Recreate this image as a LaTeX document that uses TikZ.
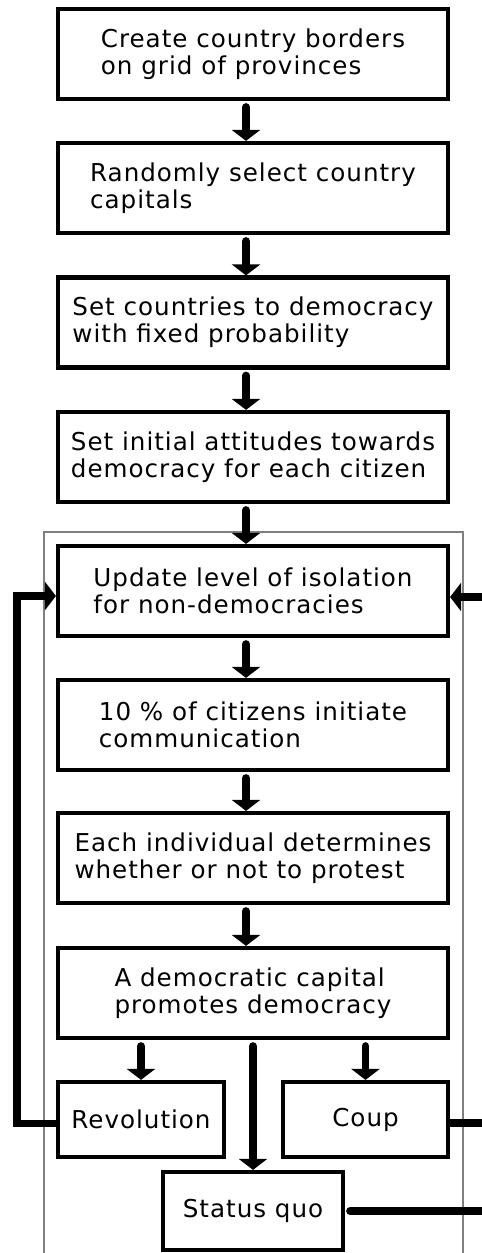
\documentclass[tikz,border=0pt]{standalone}
\usepackage{fontspec}
\setmainfont[LetterSpace = 4]{DejaVu Sans}
\usetikzlibrary{arrows.meta}

\begin{document}
\begin{tikzpicture}[x = 0.02cm, y = -0.02cm,
        every node/.append style = {font = \fontsize{14}{15.4}\selectfont},
        stage/.style = {draw, line width = 2.4pt, minimum width = 7.8cm, minimum height = 1.8cm, align = left},
        outcome/.style = {draw, line width = 2.4pt, minimum height = 1.5cm},
        link/.style = {line width = 4.5pt, line cap = round, shorten < = 0.12cm, -{Triangle[width = 0.56cm, length = 0.22cm]}},
        feed/.style = {line width = 4.5pt}]
        \useasboundingbox (0,0) rectangle (482,1253);
        \draw[gray, line width = 0.7pt] (44,1253) -- (44,532) -- (463,532) -- (463,1253);
        \node[stage] (borders) at (253,54) {Create country borders\\on grid of provinces};
        \node[stage] (capitals) at (253,188) {Randomly select country\\capitals};
        \node[stage] (democracy) at (253,322.5) {Set countries to democracy\\with fixed probability};
        \node[stage] (attitudes) at (253,457) {Set initial attitudes towards\\democracy for each citizen};
        \node[stage] (isolation) at (253,591) {Update level of isolation\\for non-democracies};
        \node[stage] (talk) at (253,725) {10 \% of citizens initiate\\communication};
        \node[stage] (protest) at (253,858) {Each individual determines\\whether or not to protest};
        \node[stage] (promote) at (253,993) {A democratic capital\\promotes democracy};
        \node[outcome, minimum width = 3.32cm] (revolution) at (141,1119.5) {Revolution};
        \node[outcome, minimum width = 3.3cm] (coup) at (365.5,1119.5) {Coup};
        \node[outcome, minimum width = 3.6cm, minimum height = 1.56cm] (quo) at (253,1211) {Status quo};
        \foreach \from/\to in {borders/capitals, capitals/democracy, democracy/attitudes,
                attitudes/isolation, isolation/talk, talk/protest, protest/promote}
            \draw[link] ([xshift = -0.14cm]\from.south) -- ([xshift = -0.14cm]\to.north);
        \draw[link] (revolution.north |- promote.south) -- (revolution.north);
        \draw[link] (coup.north |- promote.south) -- (coup.north);
        \draw[link] (quo.north |- promote.south) -- (quo.north);
        \draw[link, line cap = butt, shorten < = 0pt] ([yshift = -0.08cm]revolution.west) -- ++(-39,0) |- ([yshift = -0.1cm]isolation.west);
        \coordinate (feedin) at (482,597);
        \coordinate (coupout) at (482,1123);
        \coordinate (quoout) at (482,1211);
        \draw[link, shorten < = 0pt] (feedin) -- (feedin -| isolation.east);
        \draw[feed] (coupout -| coup.east) -- (coupout);
        \draw[feed, line cap = round, shorten < = 0.1cm] (quo.east) -- (quoout);
    \end{tikzpicture}
\end{document}
